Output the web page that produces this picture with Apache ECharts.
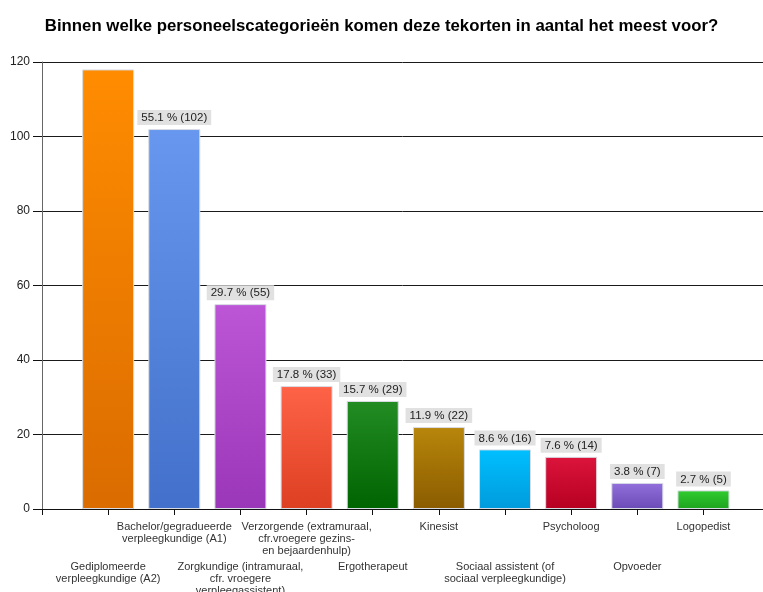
<!DOCTYPE html>
<html>
<head>
<meta charset="utf-8">
<script src="https://cdn.jsdelivr.net/npm/echarts@6/dist/echarts.min.js"></script>
<style>
  html, body { margin: 0; padding: 0; background: #fff; }
  #chart { width: 763px; height: 592px; }
</style>
</head>
<body>
<div id="chart"></div>
<script>
// Survey answers: staff categories with shortages
const categories = [
  'Gediplomeerde\nverpleegkundige (A2)',
  'Bachelor/gegradueerde\nverpleegkundige (A1)',
  'Zorgkundige (intramuraal,\ncfr. vroegere\nverpleegassistent)',
  'Verzorgende (extramuraal,\ncfr.vroegere gezins-\nen bejaardenhulp)',
  'Ergotherapeut',
  'Kinesist',
  'Sociaal assistent (of\nsociaal verpleegkundige)',
  'Psycholoog',
  'Opvoeder',
  'Logopedist'
];
const counts = [118, 102, 55, 33, 29, 22, 16, 14, 7, 5];
// percentage shown in the bar label (first bar's label sits off the top)
const percents = [null, 55.1, 29.7, 17.8, 15.7, 11.9, 8.6, 7.6, 3.8, 2.7];
const yTicks = [0, 20, 40, 60, 80, 100, 120];

const barColors = [
  ['#FF8C00', '#DA6C00'],
  ['#6797EE', '#4270CA'],
  ['#BC56D6', '#9A36B8'],
  ['#FF6347', '#DC3F22'],
  ['#238C23', '#006400'],
  ['#B8860B', '#8A5C00'],
  ['#00BFFF', '#009BDC'],
  ['#DC143C', '#B60022'],
  ['#9370DB', '#6B4BB6'],
  ['#30CC30', '#1EA31E']
];

const chart = echarts.init(document.getElementById('chart'), null, { renderer: 'canvas' });

// category slots sit at 1..10 on a value axis that starts at 0
const positions = categories.map((_, i) => i + 1);
const upperRow = positions.filter(p => p % 2 === 0);
const lowerRow = positions.filter(p => p % 2 === 1);

const barData = counts.map((v, i) => ({
  value: [positions[i], v],
  itemStyle: {
    color: new echarts.graphic.LinearGradient(0, 0, 0, 1, [
      { offset: 0, color: barColors[i][0] },
      { offset: 1, color: barColors[i][1] }
    ])
  },
  label: { show: percents[i] !== null }
}));

const FONT = '"Liberation Sans", Arial, sans-serif';

const catLabel = (customValues) => ({
  show: true,
  margin: 12,
  customValues: customValues,
  hideOverlap: false,
  showMinLabel: true,
  showMaxLabel: true,
  fontFamily: FONT,
  fontSize: 11,
  lineHeight: 12,
  color: '#333',
  align: 'center',
  formatter: function (val) {
    const i = Math.round(val) - 1;
    return (i >= 0 && i < categories.length) ? categories[i] : '';
  }
});

chart.setOption({
  animation: false,
  backgroundColor: '#ffffff',
  title: {
    text: 'Binnen welke personeelscategorieën komen deze tekorten in aantal het meest voor?',
    left: 'center',
    top: 13,
    textStyle: { fontFamily: FONT, fontSize: 16.8, fontWeight: 'bold', color: '#000' }
  },
  grid: { left: 42, right: 0, top: 62, bottom: 83, containLabel: false, outerBoundsMode: 'none' },
  xAxis: [{
    type: 'value',
    position: 'bottom',
    min: 0,
    max: 10.9,
    interval: 1,
    splitLine: { show: false },
    axisLine: { show: true, lineStyle: { color: '#111', width: 1 } },
    axisTick: { show: true, length: 6, lineStyle: { color: '#111' }, customValues: [0, ...positions] },
    axisLabel: catLabel(upperRow)
  }, {
    type: 'value',
    position: 'bottom',
    offset: 40,
    min: 0,
    max: 10.9,
    interval: 1,
    splitLine: { show: false },
    axisLine: { show: false },
    axisTick: { show: false },
    axisLabel: catLabel(lowerRow)
  }],
  yAxis: {
    type: 'value',
    min: yTicks[0],
    max: yTicks[yTicks.length - 1],
    interval: 20,
    axisLine: { show: true, lineStyle: { color: '#666', width: 1 } },
    axisTick: { show: true, length: 9, lineStyle: { color: '#111' } },
    axisLabel: { margin: 12, fontFamily: FONT, fontSize: 12, color: '#222' },
    splitLine: { show: true, lineStyle: { color: '#1a1a1a', width: 1 } }
  },
  series: [{
    type: 'bar',
    xAxisIndex: 0,
    barWidth: 52,
    data: barData,
    itemStyle: { borderColor: '#d8dce4', borderWidth: 1 },
    label: {
      position: 'top',
      distance: 4,
      fontFamily: FONT,
      fontSize: 11.5,
      color: '#222',
      backgroundColor: '#e1e1e1',
      padding: [2, 4, 1, 4],
      lineHeight: 12,
      formatter: function (p) {
        const i = p.dataIndex;
        return percents[i].toFixed(1) + ' % (' + counts[i] + ')';
      }
    }
  }]
});
</script>
</body>
</html>
